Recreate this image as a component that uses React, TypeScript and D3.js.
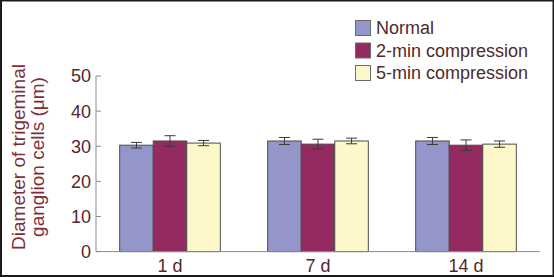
import React from "react";
import * as d3 from "d3";

const categories = ["1 d", "7 d", "14 d"];
const seriesNames = ["Normal", "2-min compression", "5-min compression"];
const normalValues = [30.3, 31.5, 31.5];
const min2Values = [31.5, 30.6, 30.3];
const min5Values = [30.9, 31.5, 30.6];
const normalErrors = [0.8, 1.0, 1.0];
const min2Errors = [1.5, 1.4, 1.5];
const min5Errors = [0.75, 0.8, 0.9];
const yTicks = [0, 10, 20, 30, 40, 50];

const colors = ["#9495c8", "#932b61", "#fcf8c9"];

export default function App() {
  const W = 554, H = 277;
  const x0 = 96, x1 = 540, yTop = 76, yBot = 251.6;
  const x = d3.scaleBand<string>().domain(categories).range([x0, x1]).paddingInner(0.32).paddingOuter(0.16);
  const xs = d3.scaleBand<string>().domain(seriesNames).range([0, x.bandwidth()]);
  const y = d3.scaleLinear().domain([0, 50]).range([yBot, yTop]);

  const values = [normalValues, min2Values, min5Values];
  const errors = [normalErrors, min2Errors, min5Errors];

  const tickColor = "#55282b";
  const font = "Arial, 'Liberation Sans', sans-serif";

  return (
    <svg width={W} height={H} style={{ position: "absolute", left: 0, top: 0, background: "#fff" }} fontFamily={font}>
      <rect x={0} y={0} width={W} height={H} fill="#fff" />
      <rect x={1} y={0.5} width={W - 1.5} height={H - 1.5} fill="none" stroke="#1a1a1a" strokeWidth={2} />
      {/* y axis label */}
      <g fill="#7b3034" fontSize={19}>
        <text transform={`translate(25,157) rotate(-90)`} textAnchor="middle">Diameter of trigeminal</text>
        <text transform={`translate(44,157) rotate(-90)`} textAnchor="middle">ganglion cells (μm)</text>
      </g>
      {/* bars */}
      {categories.map((c, ci) => (
        <g key={c} transform={`translate(${x(c)},0)`}>
          {seriesNames.map((s, si) => {
            const v = values[si][ci];
            const e = errors[si][ci];
            const bx = xs(s)!;
            const cx = bx + xs.bandwidth() / 2;
            return (
              <g key={s}>
                <rect x={bx} y={y(v)} width={xs.bandwidth()} height={yBot - y(v)} fill={colors[si]} stroke="#4d4d4d" strokeWidth={1} />
                <line x1={cx} x2={cx} y1={y(v + e)} y2={y(v - e)} stroke="#3a3a3a" strokeWidth={1} />
                <line x1={cx - 5.5} x2={cx + 5.5} y1={y(v + e)} y2={y(v + e)} stroke="#3a3a3a" strokeWidth={1} />
                <line x1={cx - 5.5} x2={cx + 5.5} y1={y(v - e)} y2={y(v - e)} stroke="#3a3a3a" strokeWidth={1} />
              </g>
            );
          })}
        </g>
      ))}
      {/* axes */}
      <line x1={x0} x2={x0} y1={yTop} y2={yBot} stroke="#8a8a8a" strokeWidth={1} />
      <line x1={x0} x2={x1} y1={yBot} y2={yBot} stroke="#8a8a8a" strokeWidth={1} />
      {yTicks.map((t) => (
        <g key={t}>
          <line x1={x0} x2={x0 + 5} y1={y(t)} y2={y(t)} stroke="#8a8a8a" strokeWidth={1} />
          <text x={x0 - 5} y={y(t)} dy="0.36em" textAnchor="end" fontSize={18} fill={tickColor}>{t}</text>
        </g>
      ))}
      {categories.map((c) => (
        <text key={c} x={x(c)! + x.bandwidth() / 2} y={yBot + 20} textAnchor="middle" fontSize={18} fill={tickColor}>{c}</text>
      ))}
      {/* legend */}
      {seriesNames.map((s, i) => (
        <g key={s} transform={`translate(355,${20.5 + i * 22.5})`}>
          <rect x={0.5} y={0} width={15} height={15} fill={colors[i]} stroke="#6a6a6a" strokeWidth={1} />
          <text x={21} y={7.5} dy="0.36em" fontSize={18} fill="#4d2a2c">{s}</text>
        </g>
      ))}
    </svg>
  );
}
